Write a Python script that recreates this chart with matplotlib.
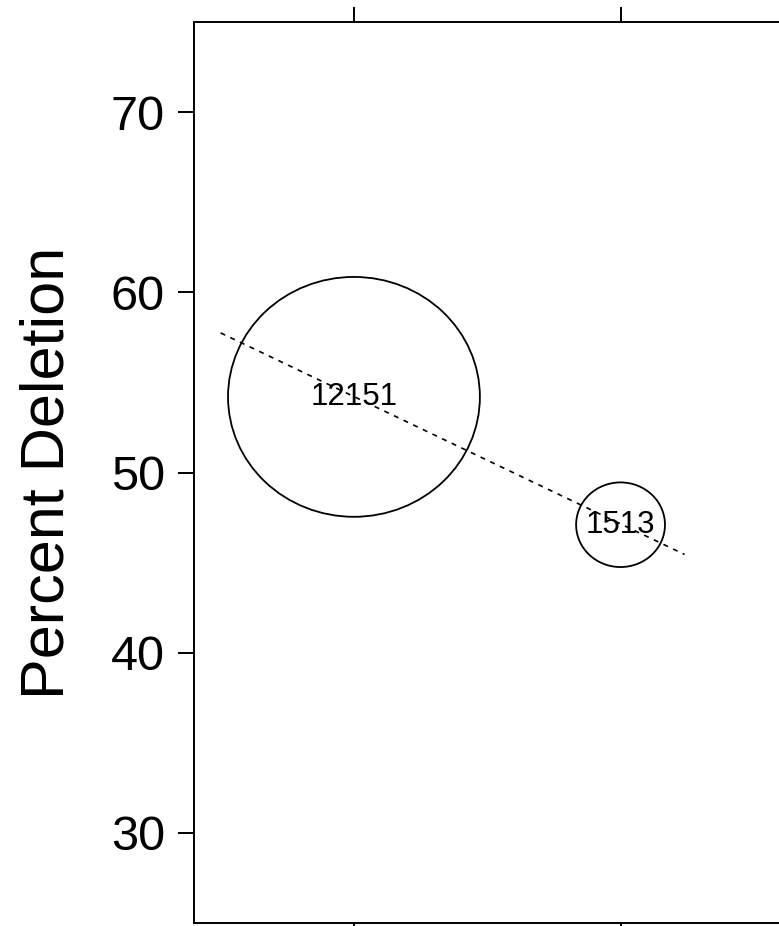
import numpy as np
import matplotlib.pyplot as plt
from matplotlib.patches import Ellipse

plt.rcParams['font.family'] = ['Liberation Sans', 'DejaVu Sans']

# values
groups = [1, 2]
pct_deletion = [54.2, 47.1]
counts = [12151, 1513]
fit_x = [0.5, 2.24]
fit_y = [57.75, 45.45]
y_ticks = [30, 40, 50, 60, 70]

W, H = 779, 926
fig = plt.figure(figsize=(W / 100, H / 100), dpi=100)
# axes run slightly past the right edge, like the cropped original
ax_l, ax_b, ax_w, ax_h = 194, 3.3, 586.5, 900.4
ax = fig.add_axes([ax_l / W, ax_b / H, ax_w / W, ax_h / H])
ax.set_xlim(0.4, 2.6)
ax.set_ylim(25, 75)

px_x = ax_w / 2.2
px_y = ax_h / 50.0

# bubble area ~ count
k = 1.088
for gx, py, n in zip(groups, pct_deletion, counts):
    r = k * np.sqrt(n)
    ax.add_patch(Ellipse((gx, py), 2 * r * 1.05 / px_x, 2 * r / px_y,
                         facecolor='none', edgecolor='black', lw=1.3))
    ax.text(gx, py, str(n), ha='center', va='center', fontsize=22.5)

ax.plot(fit_x, fit_y, color='black', lw=1.2, linestyle=(0, (3.0, 3.4)))

ax.set_yticks(y_ticks)
ax.set_xticks(groups)
ax.tick_params(axis='y', direction='out', length=11.5, width=1.4,
               labelsize=35, pad=9.5, left=True, right=False)
ax.tick_params(axis='x', direction='out', length=11, width=1.4,
               top=True, bottom=True, labelbottom=False, labeltop=False)
for s in ax.spines.values():
    s.set_linewidth(1.4)

ax.set_ylabel('Percent Deletion', fontsize=44)
ax.yaxis.set_label_coords(-0.2, 0.5)

fig.savefig('out.png', dpi=100)
